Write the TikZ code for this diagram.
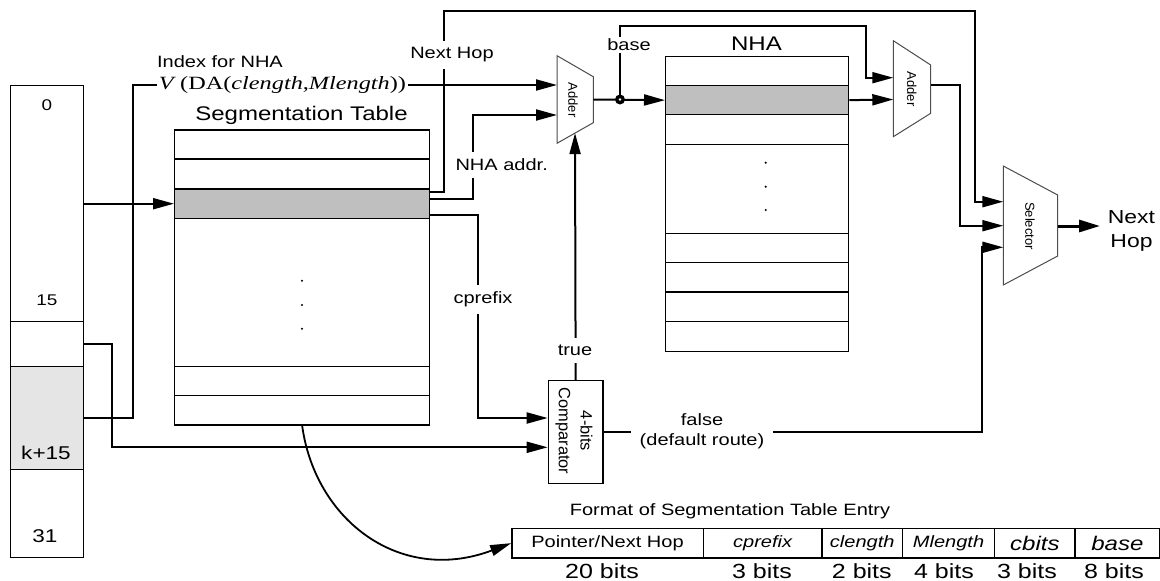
\documentclass[tikz,border=0pt]{standalone}
\usepackage{fontspec}
\usepackage{graphicx}
\setmainfont{Liberation Sans}
\newfontfamily\ws[FakeStretch=1.22]{Liberation Sans}
\newfontfamily\rs{Liberation Sans}
\newfontfamily\tms{Liberation Serif}
\usetikzlibrary{arrows.meta,calc}
\newcommand\fsz[2]{\fontsize{#1}{#2}\selectfont}
\tikzset{
  conn/.style={line width=2pt},
  arr/.style={conn,-{Triangle[length=21pt,width=11pt]}},
  cell/.style={draw,line width=1.3pt,anchor=north west,inner sep=0pt},
  graycell/.style={cell,fill=black!25},
  lbl/.style={font=\ws\fsz{16.4}{20},inner sep=1pt},
  wlbl/.style={lbl,fill=white,inner xsep=2pt,inner ysep=7pt},
  big/.style={font=\ws\fsz{19.7}{22},inner sep=1pt},
  unit/.style={draw=black!70,line width=1pt,fill=white},
  rlbl/.style={rotate=-90,inner sep=0pt,font=\rs\fsz{13}{15}}
}
\begin{document}
\begin{tikzpicture}[x=1pt,y=-1pt]
\useasboundingbox (0,0) rectangle (1160,581);

% ---------- register (bits) ----------
\node[cell,minimum width=73,minimum height=235.7] (r1) at (10,85) {};
\node[cell,minimum width=73,minimum height=45] (r2) at (10,320.7) {};
\node[cell,minimum width=73,minimum height=103,fill=black!10] (r3) at (10,365.7) {};
\node[cell,minimum width=73,minimum height=88.3] (r4) at (10,468.7) {};
\node[font=\ws\fsz{15.5}{18}] (l0) at (47,105) {0};
\node[font=\ws\fsz{15.5}{18}] (l15) at (47,300) {15};
\node[font=\ws\fsz{18.5}{20}] (lk) at (46,453) {k+15};
\node[font=\ws\fsz{18.5}{20}] (l31) at (45,536) {31};

% ---------- segmentation table ----------
\node[big] (segt) at (301.5,115) {Segmentation Table};
\node[cell,minimum width=255,minimum height=29] (s0) at (174,129.3) {};
\node[cell,minimum width=255,minimum height=30] (s1) at (174,158.3) {};
\node[graycell,minimum width=255,minimum height=29.5] (sg) at (174,188.3) {};
\node[cell,minimum width=255,minimum height=147.9] (s3) at (174,217.8) {};
\node[cell,minimum width=255,minimum height=29.3] (s4) at (174,365.7) {};
\node[cell,minimum width=255,minimum height=29.3] (s5) at (174,395) {};
\fill (302,280.7) circle (1.2) (302,305) circle (1.2) (302,328.7) circle (1.2);

% ---------- NHA table ----------
\node[big] (nhat) at (756.5,43.3) {NHA};
\node[cell,minimum width=183,minimum height=29.3] (n0) at (665,55.7) {};
\node[graycell,minimum width=183,minimum height=29] (ng) at (665,85) {};
\node[cell,minimum width=183,minimum height=30] (n2) at (665,114) {};
\node[cell,minimum width=183,minimum height=88.7] (n3) at (665,144) {};
\node[cell,minimum width=183,minimum height=29.3] (n4) at (665,232.7) {};
\node[cell,minimum width=183,minimum height=29.3] (n5) at (665,262) {};
\node[cell,minimum width=183,minimum height=29.4] (n6) at (665,291.3) {};
\node[cell,minimum width=183,minimum height=30] (n7) at (665,320.7) {};
\fill (765.7,162.7) circle (1.2) (765.7,186.7) circle (1.2) (765.7,210) circle (1.2);

% ---------- adders, selector, comparator ----------
\draw[unit] (557,55.7) -- (593.3,76.7) -- (593.3,122.7) -- (557,143.3) -- cycle;
\node[rlbl] (add1) at (573,100) {Adder};
\coordinate (a1in1) at (557,85);
\coordinate (a1in2) at (557,115);
\coordinate (a1out) at (593.3,99.5);
\coordinate (a1bot) at (575,133.1);

\draw[unit] (893.3,40.7) -- (930.7,65) -- (930.7,113.3) -- (893.3,136.7) -- cycle;
\node[rlbl] (add2) at (911.7,89) {Adder};
\coordinate (a2in1) at (893.3,77.7);
\coordinate (a2in2) at (893.3,99.5);
\coordinate (a2out) at (930.7,85);

\draw[unit] (1003.3,166) -- (1057.7,195) -- (1057.7,256) -- (1003.3,285) -- cycle;
\node[rlbl] (sel) at (1030,226) {Selector};
\coordinate (selin1) at (1003.3,201.7);
\coordinate (selin2) at (1003.3,225.7);
\coordinate (selin3) at (1003.3,247.3);
\coordinate (selout) at (1057.7,226);

\node[cell,minimum width=54.6,minimum height=102.7] (comp) at (547.7,380) {};
\node[rotate=-90,align=center,inner sep=0pt,font=\rs\fsz{16.4}{21.7}] (compl) at (574,431) {4-bits\\Comparator};
\coordinate (cin1) at ($(comp.west)+(0,-14)$);
\coordinate (cin2) at ($(comp.west)+(0,15.3)$);

% ---------- connectors ----------
\draw[arr] (r1.east |- sg.center) -- (sg.west);

\node[inner sep=2pt] (idx) at (282.5,85)
  {\resizebox{247pt}{\height}{\tms\fsz{18.7}{20}\textit{V}\,(DA(\textit{clength},\textit{Mlength}))}};
\node[lbl] (idxl) at (220,62) {Index for NHA};
\draw[conn] (r3.east) -- ++(49,0) |- (idx.west);
\draw[arr] (idx.east) -- (a1in1);

\draw[arr] (r2.east) -- ++(27.7,0) |- (cin2);

\draw[arr] ($(sg.north east)+(0,4)$) -- ++(13.7,0) |- (975,11) |- (selin1);
\draw[arr] ($(sg.north east)+(0,10.7)$) -- ++(42.7,0) |- (a1in2);
\draw[arr] ($(sg.south east)+(0,-4.5)$) -- ++(47.7,0) |- (cin1);

\draw[arr] (comp.north) -- (a1bot);
\draw[arr] (a1out) -- (ng.west);
\coordinate (jn) at (620,99.5);
\draw[arr] (jn) |- (866,25.7) |- (a2in1);
\fill (jn) circle (5);
\fill[white] (jn) circle (1.3);

\draw[arr] (ng.east) -- (a2in2);
\draw[arr] (a2out) -- ++(29.3,0) |- (selin2);
\draw[arr] (comp.east) -- ++(378.7,0) |- (selin3);

\node[font=\ws\fsz{18.8}{24.3},align=center,inner sep=0pt] (nhout) at (1131.5,231) {Next\\Hop};
\draw[line width=3pt,-{Triangle[length=21pt,width=12pt]}] (selout) -- (selout -| 1100,0);

% labels on lines
\node[wlbl] (lnh) at (452,55) {Next Hop};
\node[wlbl] (lnha) at (501.7,165) {NHA addr.};
\node[wlbl] (lcp) at (483,299.3) {cprefix};
\node[wlbl] (ltrue) at (575,350.7) {true};
\node[wlbl,inner ysep=2pt] (lbase) at (629,45) {base};
\node[lbl,fill=white,align=center,inner xsep=9pt,font=\ws\fsz{16.4}{20}] (lfalse) at (702,431.7) {false\\(default route)};

% ---------- format of segmentation table entry ----------
\node[lbl] (fmtt) at (730,511.7) {Format of Segmentation Table Entry};
\node[cell,minimum width=191.3,minimum height=29.6,font=\ws\fsz{16.4}{20}] (f1) at (511.2,527.7) {Pointer/Next Hop};
\node[cell,minimum width=118.9,minimum height=29.6,font=\ws\itshape\fsz{16.4}{20}] (f2) at (702.5,527.7) {cprefix};
\node[cell,minimum width=80.3,minimum height=29.6,font=\ws\itshape\fsz{16.4}{20}] (f3) at (821.4,527.7) {clength};
\node[cell,minimum width=92.4,minimum height=29.6,font=\ws\itshape\fsz{16.4}{20}] (f4) at (901.7,527.7) {Mlength};
\node[cell,minimum width=80.3,minimum height=29.6,font=\ws\itshape\fsz{19.7}{20}] (f5) at (994.1,527.7) {cbits};
\node[cell,minimum width=84.6,minimum height=29.6,font=\ws\itshape\fsz{19.7}{20}] (f6) at (1074.4,527.7) {base};
\node[font=\ws\fsz{20.5}{22},inner sep=0pt] (b1) at (602,571) {20 bits};
\node[font=\ws\fsz{20.5}{22},inner sep=0pt] (b2) at (762,571) {3 bits};
\node[font=\ws\fsz{20.5}{22},inner sep=0pt] (b3) at (861.8,571) {2 bits};
\node[font=\ws\fsz{20.5}{22},inner sep=0pt] (b4) at (944,571) {4 bits};
\node[font=\ws\fsz{20.5}{22},inner sep=0pt] (b5) at (1027,571) {3 bits};
\node[font=\ws\fsz{20.5}{22},inner sep=0pt] (b6) at (1114,571) {8 bits};

\draw[line width=1.8pt,-{Triangle[length=21pt,width=11pt]}] (s5.south) .. controls (315,520) and (400,585) .. (f1.west);
\end{tikzpicture}
\end{document}
